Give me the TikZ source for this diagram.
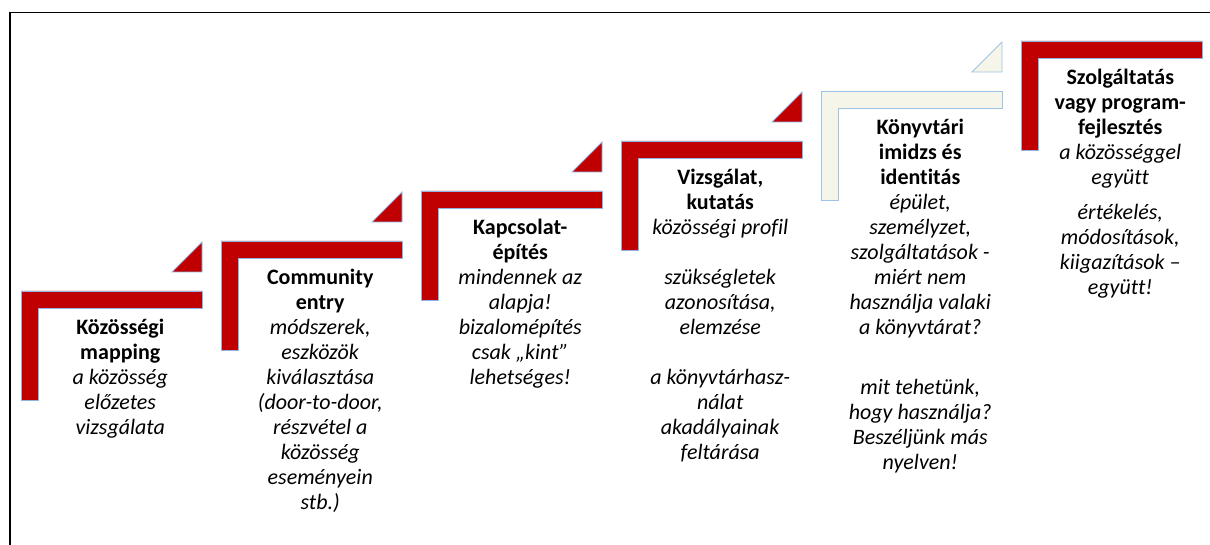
\documentclass[tikz,border=0pt]{standalone}
\usepackage{fontspec}
\setmainfont{Carlito}[Ligatures=NoCommon,Contextuals=NoAlternate]
\definecolor{stepred}{HTML}{C00000}
\definecolor{stepline}{HTML}{8EB4E3}
\definecolor{stepcream}{HTML}{F5F5EA}
\definecolor{creamline}{HTML}{9DC3E6}

\begin{document}
\begin{tikzpicture}[x=1pt,y=-1pt,
	stepbar/.style={fill=stepred,draw=stepline,line width=0.8pt},
	creambar/.style={fill=stepcream,draw=creamline,line width=0.8pt},
	stepnote/.style={anchor=north,align=center,inner sep=0pt,font=\fontsize{22}{25}\selectfont}]
\useasboundingbox (0,0) rectangle (1210,545);
\draw[line width=1.6pt] (10,545) -- (10,12.5) -- (1210,12.5) ; % frame

\filldraw[stepbar] (21,291) -- (202,291) -- (202,308.5) -- (38.5,308.5) -- (38.5,400) -- (21,400) -- cycle ; % step.0
\filldraw[stepbar] (221,241) -- (402,241) -- (402,258.5) -- (238.5,258.5) -- (238.5,350) -- (221,350) -- cycle ; % step.1
\filldraw[stepbar] (421,191) -- (602,191) -- (602,208.5) -- (438.5,208.5) -- (438.5,300) -- (421,300) -- cycle ; % step.2
\filldraw[stepbar] (621,141) -- (802,141) -- (802,158.5) -- (638.5,158.5) -- (638.5,250) -- (621,250) -- cycle ; % step.3
\filldraw[creambar] (821,91) -- (1002,91) -- (1002,108.5) -- (838.5,108.5) -- (838.5,200) -- (821,200) -- cycle ; % step.4
\filldraw[stepbar] (1021,41) -- (1202,41) -- (1202,58.5) -- (1038.5,58.5) -- (1038.5,150) -- (1021,150) -- cycle ; % step.5

\filldraw[stepbar] (202,272) -- (202,242) -- (172,272) -- cycle ; % riser.0
\filldraw[stepbar] (402,222) -- (402,192) -- (372,222) -- cycle ; % riser.1
\filldraw[stepbar] (602,172) -- (602,142) -- (572,172) -- cycle ; % riser.2
\filldraw[stepbar] (802,122) -- (802,92) -- (772,122) -- cycle ; % riser.3
\filldraw[creambar] (1002,72) -- (1002,42) -- (972,72) -- cycle ; % riser.4

\node[stepnote] (mapping) at (120.25,316.5) {\strut\textbf{Közösségi}\\ \textbf{mapping}\\ \textit{a közösség}\\ \textit{előzetes}\\ \textit{vizsgálata}}; % step.0
\node[stepnote] (entry) at (320.25,266.5) {\strut\textbf{Community}\\ \textbf{entry}\\ \textit{módszerek,}\\ \textit{eszközök}\\ \textit{kiválasztása}\\ \textit{(door-to-door,}\\ \textit{részvétel a}\\ \textit{közösség}\\ \textit{eseményein}\\ \textit{stb.)}}; % step.1
\node[stepnote] (kapcsolat) at (520.25,216.5) {\strut\textbf{Kapcsolat-}\\ \textbf{építés}\\ \textit{mindennek az}\\ \textit{alapja!}\\ \textit{bizalomépítés}\\ \textit{csak „kint”}\\ \textit{lehetséges!}}; % step.2
\node[stepnote] (vizsgalat) at (720.25,166.5) {\strut\textbf{Vizsgálat,}\\ \textbf{kutatás}\\ \textit{közösségi profil}\\[25pt] \textit{szükségletek}\\ \textit{azonosítása,}\\ \textit{elemzése}\\[25pt] \textit{a könyvtárhasz-}\\ \textit{nálat}\\ \textit{akadályainak}\\ \textit{feltárása}}; % step.3
\node[stepnote] (imidzs) at (920.25,116.5) {\strut\textbf{Könyvtári}\\ \textbf{imidzs és}\\ \textbf{identitás}\\ \textit{épület,}\\ \textit{személyzet,}\\ \textit{szolgáltatások -}\\ \textit{miért nem}\\ \textit{használja valaki}\\ \textit{a könyvtárat?}\\[35pt] \textit{mit tehetünk,}\\ \textit{hogy használja?}\\ \textit{Beszéljünk más}\\ \textit{nyelven!}}; % step.4
\node[stepnote] (fejlesztes) at (1120.25,66.5) {\strut\textbf{Szolgáltatás}\\ \textbf{vagy program-}\\ \textbf{fejlesztés}\\ \textit{a közösséggel}\\ \textit{együtt}\\[10pt] \textit{értékelés,}\\ \textit{módosítások,}\\ \textit{kiigazítások –}\\ \textit{együtt!}}; % step.5

\end{tikzpicture}
\end{document}
